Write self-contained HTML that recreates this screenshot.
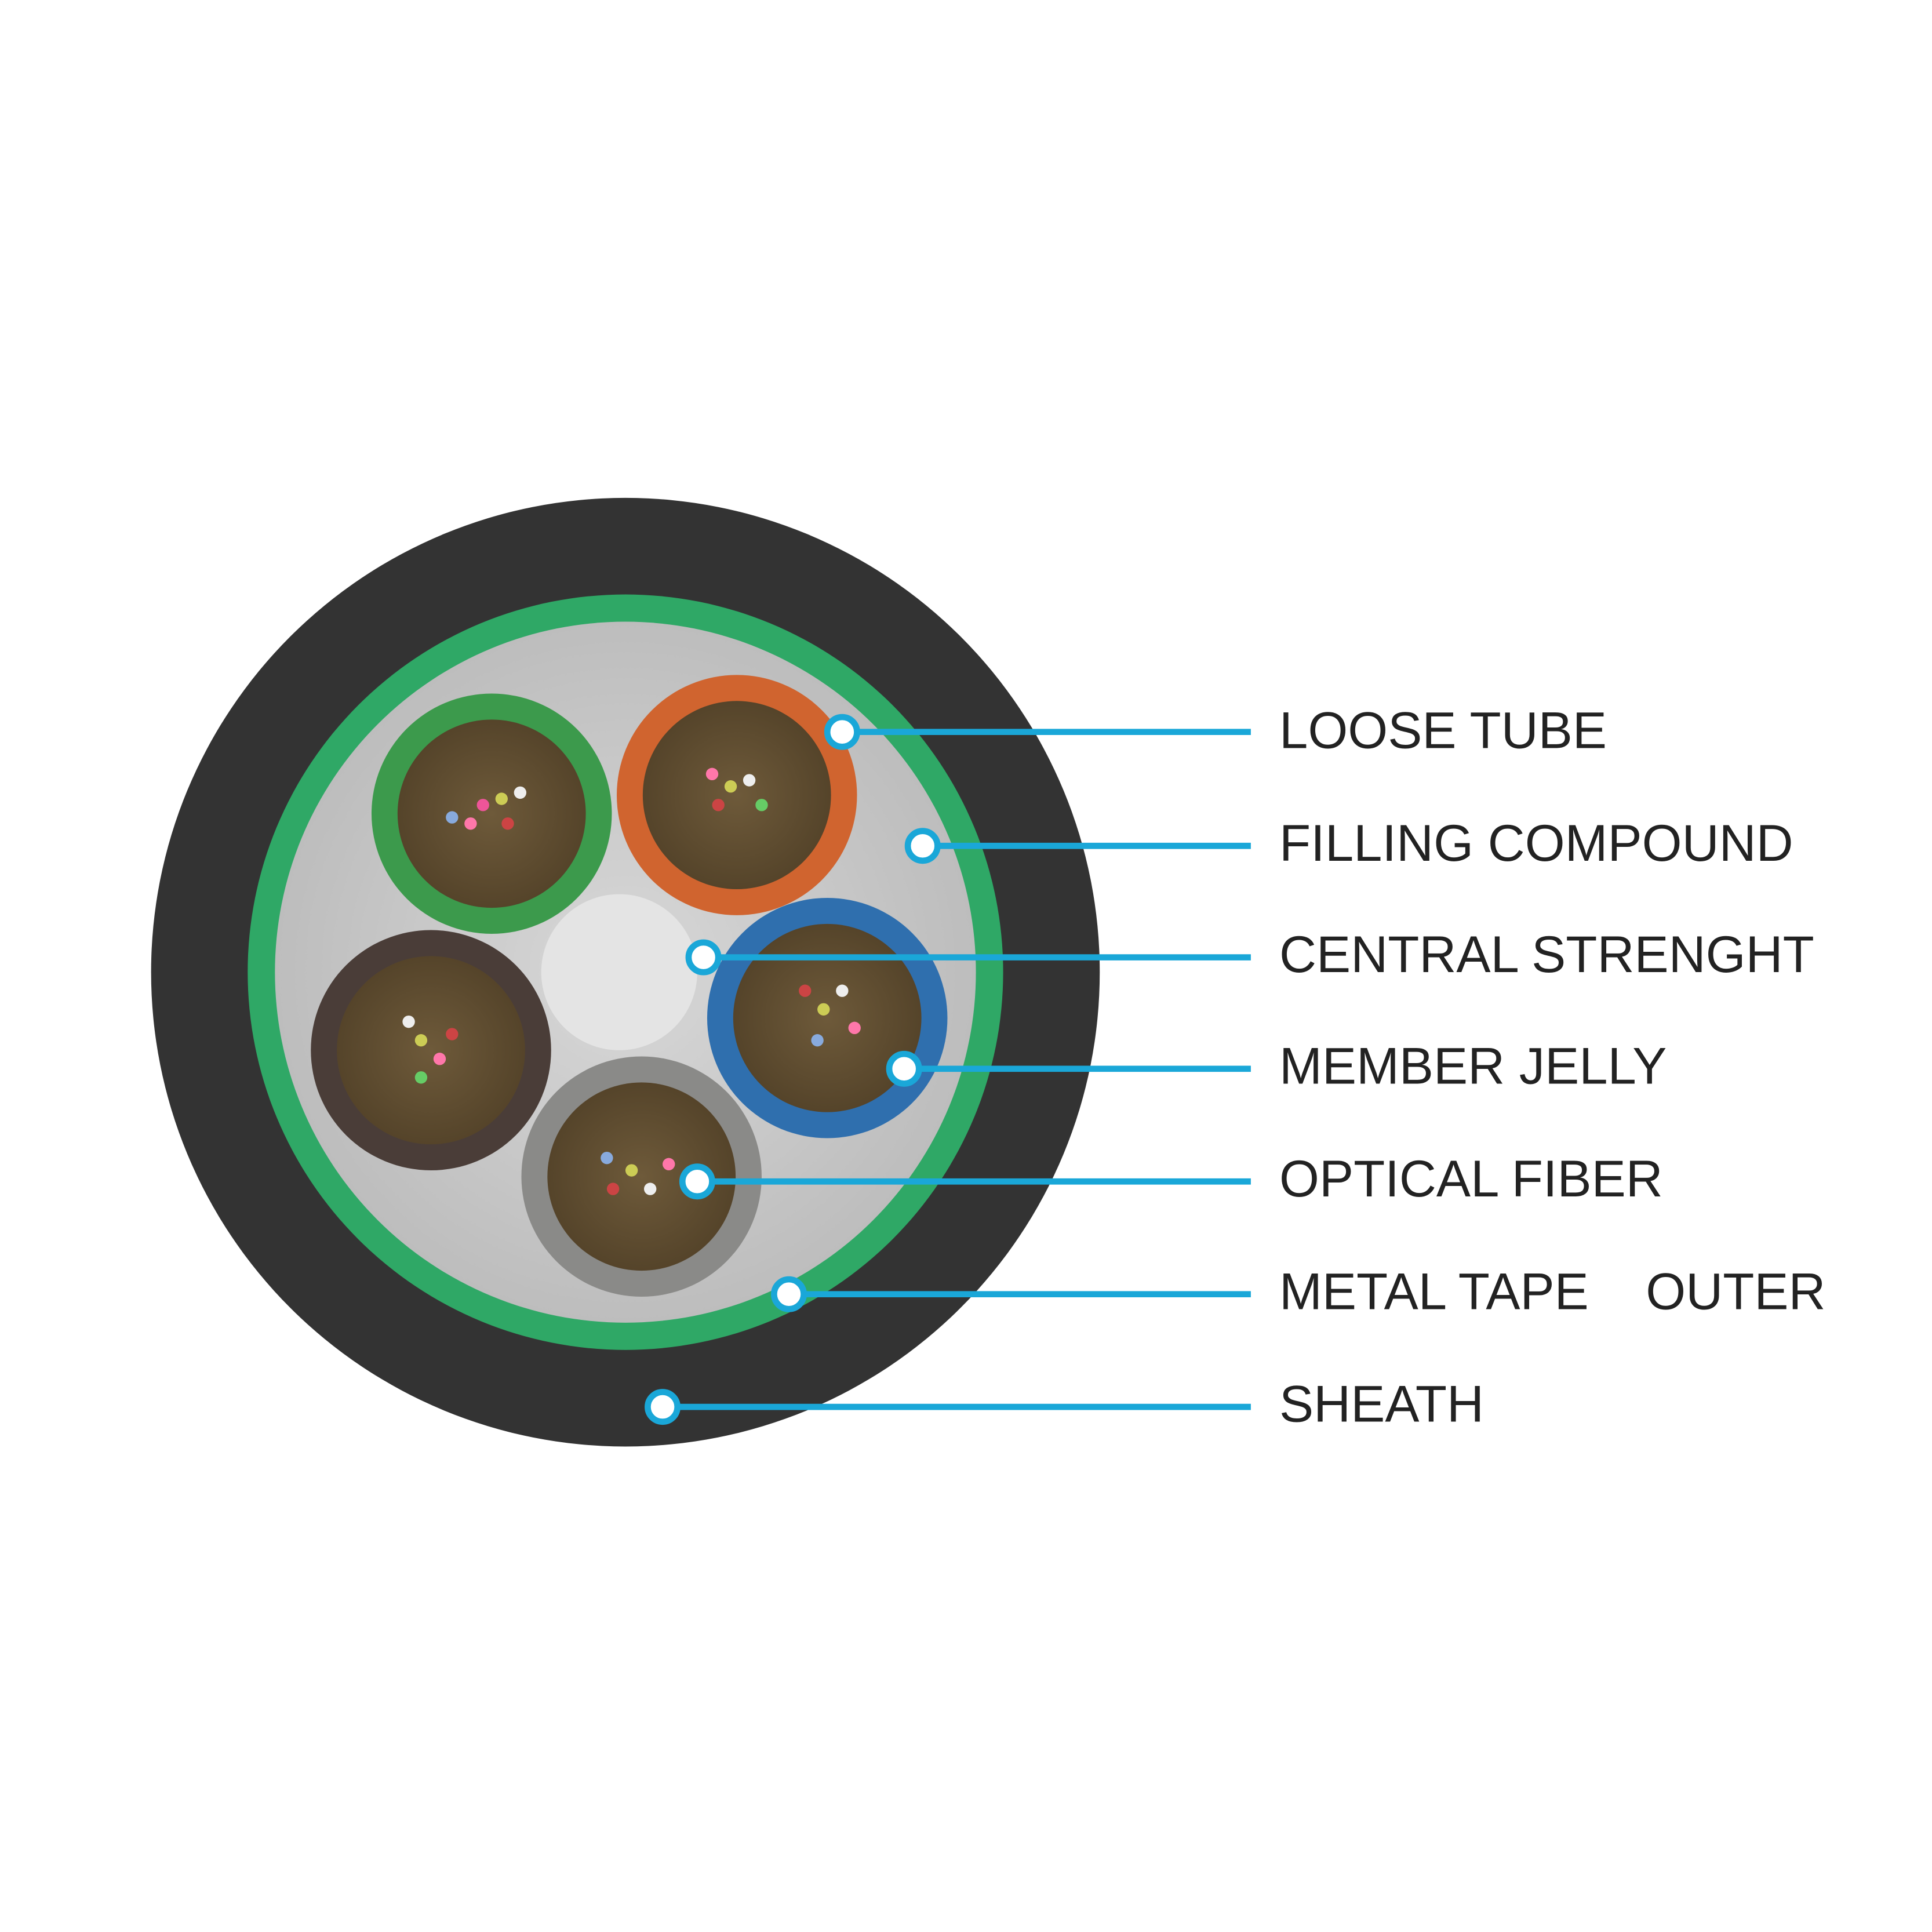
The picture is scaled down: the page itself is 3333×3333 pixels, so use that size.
<!DOCTYPE html>
<html><head><meta charset="utf-8"><style>
html,body{margin:0;padding:0;background:#fff;}
svg{display:block;}
text{font-family:"Liberation Sans",sans-serif;font-size:41.5px;fill:#222;}
</style></head><body>
<svg width="3333" height="3333" viewBox="0 0 1560 1560" xmlns="http://www.w3.org/2000/svg">
<defs>
<radialGradient id="fill" cx="50%" cy="50%" r="50%">
<stop offset="0%" stop-color="#d8d8d8"/><stop offset="100%" stop-color="#bdbdbd"/>
</radialGradient>
<radialGradient id="core" cx="50%" cy="50%" r="50%">
<stop offset="0%" stop-color="#6e5a3a"/><stop offset="100%" stop-color="#55442a"/>
</radialGradient>
</defs>
<rect width="1560" height="1560" fill="#fff"/>
<circle cx="505" cy="785" r="383" fill="#333333"/>
<circle cx="505" cy="785" r="305" fill="#2fa866"/>
<circle cx="505" cy="785" r="283" fill="url(#fill)"/>
<g>
<circle cx="397" cy="657" r="97" fill="#3c9a4c"/><circle cx="397" cy="657" r="76" fill="url(#core)"/>
<circle cx="595" cy="642" r="97" fill="#d0642f"/><circle cx="595" cy="642" r="76" fill="url(#core)"/>
<circle cx="348" cy="848" r="97" fill="#4a3d38"/><circle cx="348" cy="848" r="76" fill="url(#core)"/>
<circle cx="668" cy="822" r="97" fill="#2f6fae"/><circle cx="668" cy="822" r="76" fill="url(#core)"/>
<circle cx="518" cy="950" r="97" fill="#8a8a88"/><circle cx="518" cy="950" r="76" fill="url(#core)"/>
<circle cx="500" cy="785" r="63" fill="#e4e4e4"/>
</g>
<g>
<circle cx="390" cy="650" r="5" fill="#e59"/><circle cx="405" cy="645" r="5" fill="#cc5"/><circle cx="380" cy="665" r="5" fill="#f7a"/><circle cx="410" cy="665" r="5" fill="#c44"/><circle cx="365" cy="660" r="5" fill="#8ad"/><circle cx="420" cy="640" r="5" fill="#eee"/>
<circle cx="590" cy="635" r="5" fill="#cc5"/><circle cx="575" cy="625" r="5" fill="#f7a"/><circle cx="605" cy="630" r="5" fill="#eee"/><circle cx="580" cy="650" r="5" fill="#c44"/><circle cx="615" cy="650" r="5" fill="#6c6"/>
<circle cx="340" cy="840" r="5" fill="#cc5"/><circle cx="330" cy="825" r="5" fill="#eee"/><circle cx="355" cy="855" r="5" fill="#f7a"/><circle cx="340" cy="870" r="5" fill="#6c6"/><circle cx="365" cy="835" r="5" fill="#c44"/>
<circle cx="665" cy="815" r="5" fill="#cc5"/><circle cx="650" cy="800" r="5" fill="#c44"/><circle cx="680" cy="800" r="5" fill="#eee"/><circle cx="660" cy="840" r="5" fill="#8ad"/><circle cx="690" cy="830" r="5" fill="#f7a"/>
<circle cx="510" cy="945" r="5" fill="#cc5"/><circle cx="490" cy="935" r="5" fill="#8ad"/><circle cx="525" cy="960" r="5" fill="#eee"/><circle cx="495" cy="960" r="5" fill="#c44"/><circle cx="540" cy="940" r="5" fill="#f7a"/>
</g>
<g stroke="#1aa7d8" stroke-width="5" fill="#fff">
<line x1="680" y1="591" x2="1010" y2="591"/>
<line x1="745" y1="683" x2="1010" y2="683"/>
<line x1="568" y1="773" x2="1010" y2="773"/>
<line x1="730" y1="863" x2="1010" y2="863"/>
<line x1="563" y1="954" x2="1010" y2="954"/>
<line x1="637" y1="1045" x2="1010" y2="1045"/>
<line x1="535" y1="1136" x2="1010" y2="1136"/>
<circle cx="680" cy="591" r="12"/>
<circle cx="745" cy="683" r="12"/>
<circle cx="568" cy="773" r="12"/>
<circle cx="730" cy="863" r="12"/>
<circle cx="563" cy="954" r="12"/>
<circle cx="637" cy="1045" r="12"/>
<circle cx="535" cy="1136" r="12"/>
</g>
<text x="1033" y="604">LOOSE TUBE</text>
<text x="1033" y="695">FILLING COMPOUND</text>
<text x="1033" y="785">CENTRAL STRENGHT</text>
<text x="1033" y="875">MEMBER JELLY</text>
<text x="1033" y="966">OPTICAL FIBER</text>
<text x="1033" y="1057" xml:space="preserve">METAL TAPE    OUTER</text>
<text x="1033" y="1148">SHEATH</text>
</svg>
</body></html>
